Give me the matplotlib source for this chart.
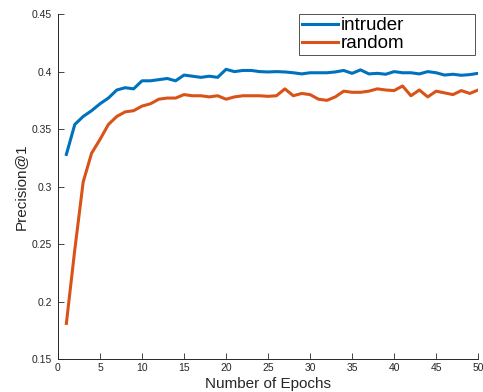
import matplotlib
matplotlib.use("Agg")
import matplotlib.pyplot as plt

epochs = list(range(1, 51))
intruder = [
    0.328, 0.354, 0.361, 0.366, 0.372, 0.377, 0.384, 0.386, 0.385, 0.392,
    0.392, 0.393, 0.394, 0.392, 0.397, 0.396, 0.395, 0.396, 0.395, 0.402,
    0.400, 0.401, 0.401, 0.400, 0.3997, 0.400, 0.3997, 0.399, 0.398, 0.399,
    0.399, 0.399, 0.3997, 0.401, 0.3985, 0.4015, 0.398, 0.3985, 0.3977, 0.400,
    0.399, 0.399, 0.398, 0.400, 0.399, 0.397, 0.3977, 0.3968, 0.3974, 0.3985,
]
random_ = [
    0.181, 0.245, 0.304, 0.329, 0.341, 0.354, 0.361, 0.365, 0.366, 0.370,
    0.372, 0.376, 0.377, 0.377, 0.380, 0.379, 0.379, 0.378, 0.379, 0.376,
    0.378, 0.379, 0.379, 0.379, 0.3785, 0.379, 0.385, 0.379, 0.381, 0.380,
    0.376, 0.375, 0.378, 0.383, 0.382, 0.382, 0.383, 0.385, 0.384, 0.3835,
    0.3875, 0.379, 0.384, 0.378, 0.383, 0.3815, 0.380, 0.3835, 0.381, 0.384,
]
labels = ["intruder", "random"]
colors = ["#0072BD", "#D95319"]

plt.rcParams["font.family"] = ["Liberation Sans", "DejaVu Sans"]

fig = plt.figure(figsize=(4.83, 3.92), dpi=100)
ax = fig.add_axes([0.120, 0.084, 0.870, 0.880])

for series, label, color in zip([intruder, random_], labels, colors):
    ax.plot(epochs, series, color=color, lw=2.2, label=label)

ax.set_xlim(0, 50)
ax.set_ylim(0.15, 0.45)
ax.set_xticks(range(0, 51, 5))
ax.set_yticks([0.15, 0.2, 0.25, 0.3, 0.35, 0.4, 0.45])
ax.set_yticklabels(["0.15", "0.2", "0.25", "0.3", "0.35", "0.4", "0.45"])
ax.tick_params(direction="in", length=4, width=0.6, labelsize=7.5, colors="#262626")
ax.tick_params(axis="y", pad=4.5)
ax.tick_params(axis="x", pad=3)
for side in ("top", "right"):
    ax.spines[side].set_visible(False)
for side in ("left", "bottom"):
    ax.spines[side].set_color("#262626")
    ax.spines[side].set_linewidth(0.7)

ax.set_xlabel("Number of Epochs", fontsize=11, color="#262626", labelpad=3)
ax.set_ylabel("Precision@1", fontsize=11, color="#262626", labelpad=3)

leg = ax.legend(loc="upper left", bbox_to_anchor=(0.574, 0.882, 0.419, 0.117),
                mode="expand", fontsize=13.5, frameon=True, fancybox=False,
                handlelength=1.9, handletextpad=0.15, borderpad=0.15,
                labelspacing=0.05, borderaxespad=0.0)
leg.get_frame().set_edgecolor("#262626")
leg.get_frame().set_linewidth(0.7)

fig.savefig("out.png", dpi=100)
